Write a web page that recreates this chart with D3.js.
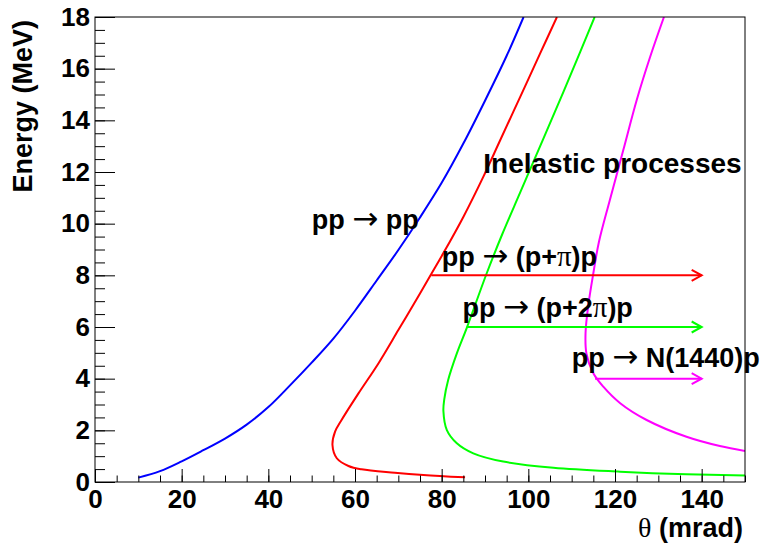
<!DOCTYPE html>
<html>
<head>
<meta charset="utf-8">
<script src="https://cdn.jsdelivr.net/npm/d3@7"></script>
<style>
  html, body { margin: 0; padding: 0; background: #fff; }
  svg { display: block; }
  text { font-family: "Liberation Sans", Arial, Helvetica, sans-serif; }
</style>
</head>
<body>
<svg id="chart" width="766" height="546"></svg>
<script>
// ---- data (theta in mrad, energy in MeV) ----
const elasticTheta = [10, 15, 20, 25, 30, 35, 40, 45, 50, 55, 60, 65, 70, 75, 80, 85, 90, 95, 98.9];
const elasticE     = [0.17, 0.42, 0.80, 1.23, 1.68, 2.22, 2.90, 3.74, 4.62, 5.55, 6.63, 7.80, 8.98, 10.24, 11.58, 13.10, 14.76, 16.50, 18];

const onePiTheta = [85.4, 79.6, 75.8, 69.2, 61.5, 58.5, 55.8, 54.8, 55.4, 56.9, 60.8, 65.4, 70, 75, 77.7, 80.4, 85.0, 89.6, 93.5, 98.1, 102.7, 106.6];
const onePiE     = [0.18, 0.23, 0.27, 0.36, 0.49, 0.62, 0.92, 1.43, 1.95, 2.40, 3.43, 4.59, 5.88, 7.30, 8.08, 8.86, 10.26, 11.81, 13.23, 14.90, 16.58, 18];

const twoPiTheta = [150, 136.5, 121.2, 105.8, 94.2, 87.3, 83.5, 81.2, 80.4, 80.6, 81.5, 83.5, 85.8, 90.4, 94, 98.1, 103.5, 108.1, 111.9, 115.3];
const twoPiE     = [0.25, 0.30, 0.40, 0.55, 0.79, 1.11, 1.50, 2.01, 2.75, 3.2, 3.95, 4.98, 5.97, 8.08, 9.6, 11.2, 13.3, 15.1, 16.62, 18];

const n1440Theta = [150, 144.2, 136.5, 127.3, 121.2, 117.3, 115.0, 113.4, 113.2, 113.8, 115.0, 116.3, 118.8, 121.9, 125.0, 128.1, 131.3];
const n1440E     = [1.2, 1.39, 1.75, 2.40, 3.05, 3.69, 4.21, 4.98, 5.76, 6.79, 8.08, 9.3, 10.91, 12.84, 14.78, 16.45, 18];

// threshold arrows: start theta, energy, end theta
const arrowStart = [77.6, 85.8, 115.4];
const arrowE     = [8, 6, 4];
const arrowEnd   = [140, 140, 140];
const arrowColors = ["#ff0000", "#00ff00", "#ff00ff"];

// labels: baseline-left position [theta, energy]
const labelTheta = [50, 80, 84.8, 110, 89.6];
const labelE     = [9.8, 8.35, 6.4, 4.45, 11.95];

const xTicks = [0, 20, 40, 60, 80, 100, 120, 140];
const yTicks = [0, 2, 4, 6, 8, 10, 12, 14, 16, 18];
const xDomain = [0, 150];
const yDomain = [0, 18];

// ---- drawing ----
const svg = d3.select("#chart");
const L = 95, R = 745, T = 17, B = 482;
const x = d3.scaleLinear().domain(xDomain).range([L, R]);
const y = d3.scaleLinear().domain(yDomain).range([B, T]);

const series = [
  {th: elasticTheta, e: elasticE, c: "#0000ff"},
  {th: onePiTheta,  e: onePiE,  c: "#ff0000"},
  {th: twoPiTheta,  e: twoPiE,  c: "#00ff00"},
  {th: n1440Theta,  e: n1440E,  c: "#ff00ff"}
];
svg.append("clipPath").attr("id", "clip").append("rect")
  .attr("x", L).attr("y", T).attr("width", R - L).attr("height", B - T);
const line = d3.line().x(d => x(d[0])).y(d => y(d[1])).curve(d3.curveCatmullRom.alpha(0.5));
const gCurves = svg.append("g").attr("clip-path", "url(#clip)");
series.forEach(s => {
  gCurves.append("path")
    .datum(s.th.map((t, i) => [t, s.e[i]]))
    .attr("d", line)
    .attr("fill", "none")
    .attr("stroke", s.c)
    .attr("stroke-width", 2);
});

// arrows
arrowStart.forEach((t0, i) => {
  const yy = y(arrowE[i]);
  const x0 = x(t0), x1 = x(arrowEnd[i]);
  const g = svg.append("g").attr("stroke", arrowColors[i]).attr("stroke-width", 2).attr("fill", "none");
  g.append("line").attr("x1", x0).attr("y1", yy).attr("x2", x1).attr("y2", yy);
  g.append("path").attr("d", `M${x1 - 10},${yy - 5.5}L${x1},${yy}L${x1 - 10},${yy + 5.5}`);
});

// axes (ticks inside, ROOT style)
const xAxis = svg.append("g").attr("transform", `translate(0,${B})`)
  .call(d3.axisBottom(x).tickValues(xTicks).tickSize(-13).tickPadding(8).tickFormat(d3.format("d")));
const xMinor = svg.append("g").attr("transform", `translate(0,${B})`)
  .call(d3.axisBottom(x).tickValues(d3.range(0, 151, 5)).tickSize(-6.5).tickFormat(""));
const yAxis = svg.append("g").attr("transform", `translate(${L},0)`)
  .call(d3.axisLeft(y).tickValues(yTicks).tickSize(-20).tickPadding(5).tickFormat(d3.format("d")));
const yMinor = svg.append("g").attr("transform", `translate(${L},0)`)
  .call(d3.axisLeft(y).tickValues(d3.range(0, 18.01, 0.5)).tickSize(-10).tickFormat(""));
[xAxis, xMinor, yAxis, yMinor].forEach(g => {
  g.select(".domain").remove();
  g.selectAll(".tick line").attr("stroke", "#000").attr("stroke-width", 1);
});
[xAxis, yAxis].forEach(g => g.selectAll(".tick text")
  .attr("font-size", 26).attr("font-weight", "bold").attr("fill", "#000")
  .style("font-family", '"Liberation Sans", Arial, sans-serif'));

// frame
svg.append("rect").attr("x", L).attr("y", T).attr("width", R - L).attr("height", B - T)
  .attr("fill", "none").attr("stroke", "#000").attr("stroke-width", 1);

// axis titles
const xt = svg.append("text").attr("x", 743).attr("y", 537).attr("text-anchor", "end")
  .attr("font-size", 27).attr("font-weight", "bold");
xt.append("tspan").attr("font-weight", "normal").style("font-family", '"Liberation Serif", serif').attr("font-size", 28).text("θ");
xt.append("tspan").text(" (mrad)");

svg.append("text").attr("transform", "translate(32,20) rotate(-90)")
  .attr("text-anchor", "end").attr("font-size", 27).attr("font-weight", "bold")
  .text("Energy (MeV)");

// labels
function label(i, parts, size) {
  const t = svg.append("text").attr("x", x(labelTheta[i])).attr("y", y(labelE[i]))
    .attr("font-size", size || 27).attr("font-weight", "bold").attr("fill", "#000");
  parts.forEach(p => {
    const s = t.append("tspan").text(p[0]);
    if (p[1] === 1) s.attr("font-weight", "normal").style("font-family", '"DejaVu Sans", sans-serif').attr("font-size", 31);
    if (p[1] === 2) s.attr("font-weight", "normal").style("font-family", '"Liberation Serif", serif').attr("font-size", 29);
  });
}
label(0, [["pp ", 0], ["→", 1], [" pp", 0]]);
label(1, [["pp ", 0], ["→", 1], [" (p+", 0], ["π", 2], [")p", 0]]);
label(2, [["pp ", 0], ["→", 1], [" (p+2", 0], ["π", 2], [")p", 0]]);
label(3, [["pp ", 0], ["→", 1], [" N(1440)p", 0]]);
label(4, [["Inelastic processes", 0]], 28);
</script>
</body>
</html>
